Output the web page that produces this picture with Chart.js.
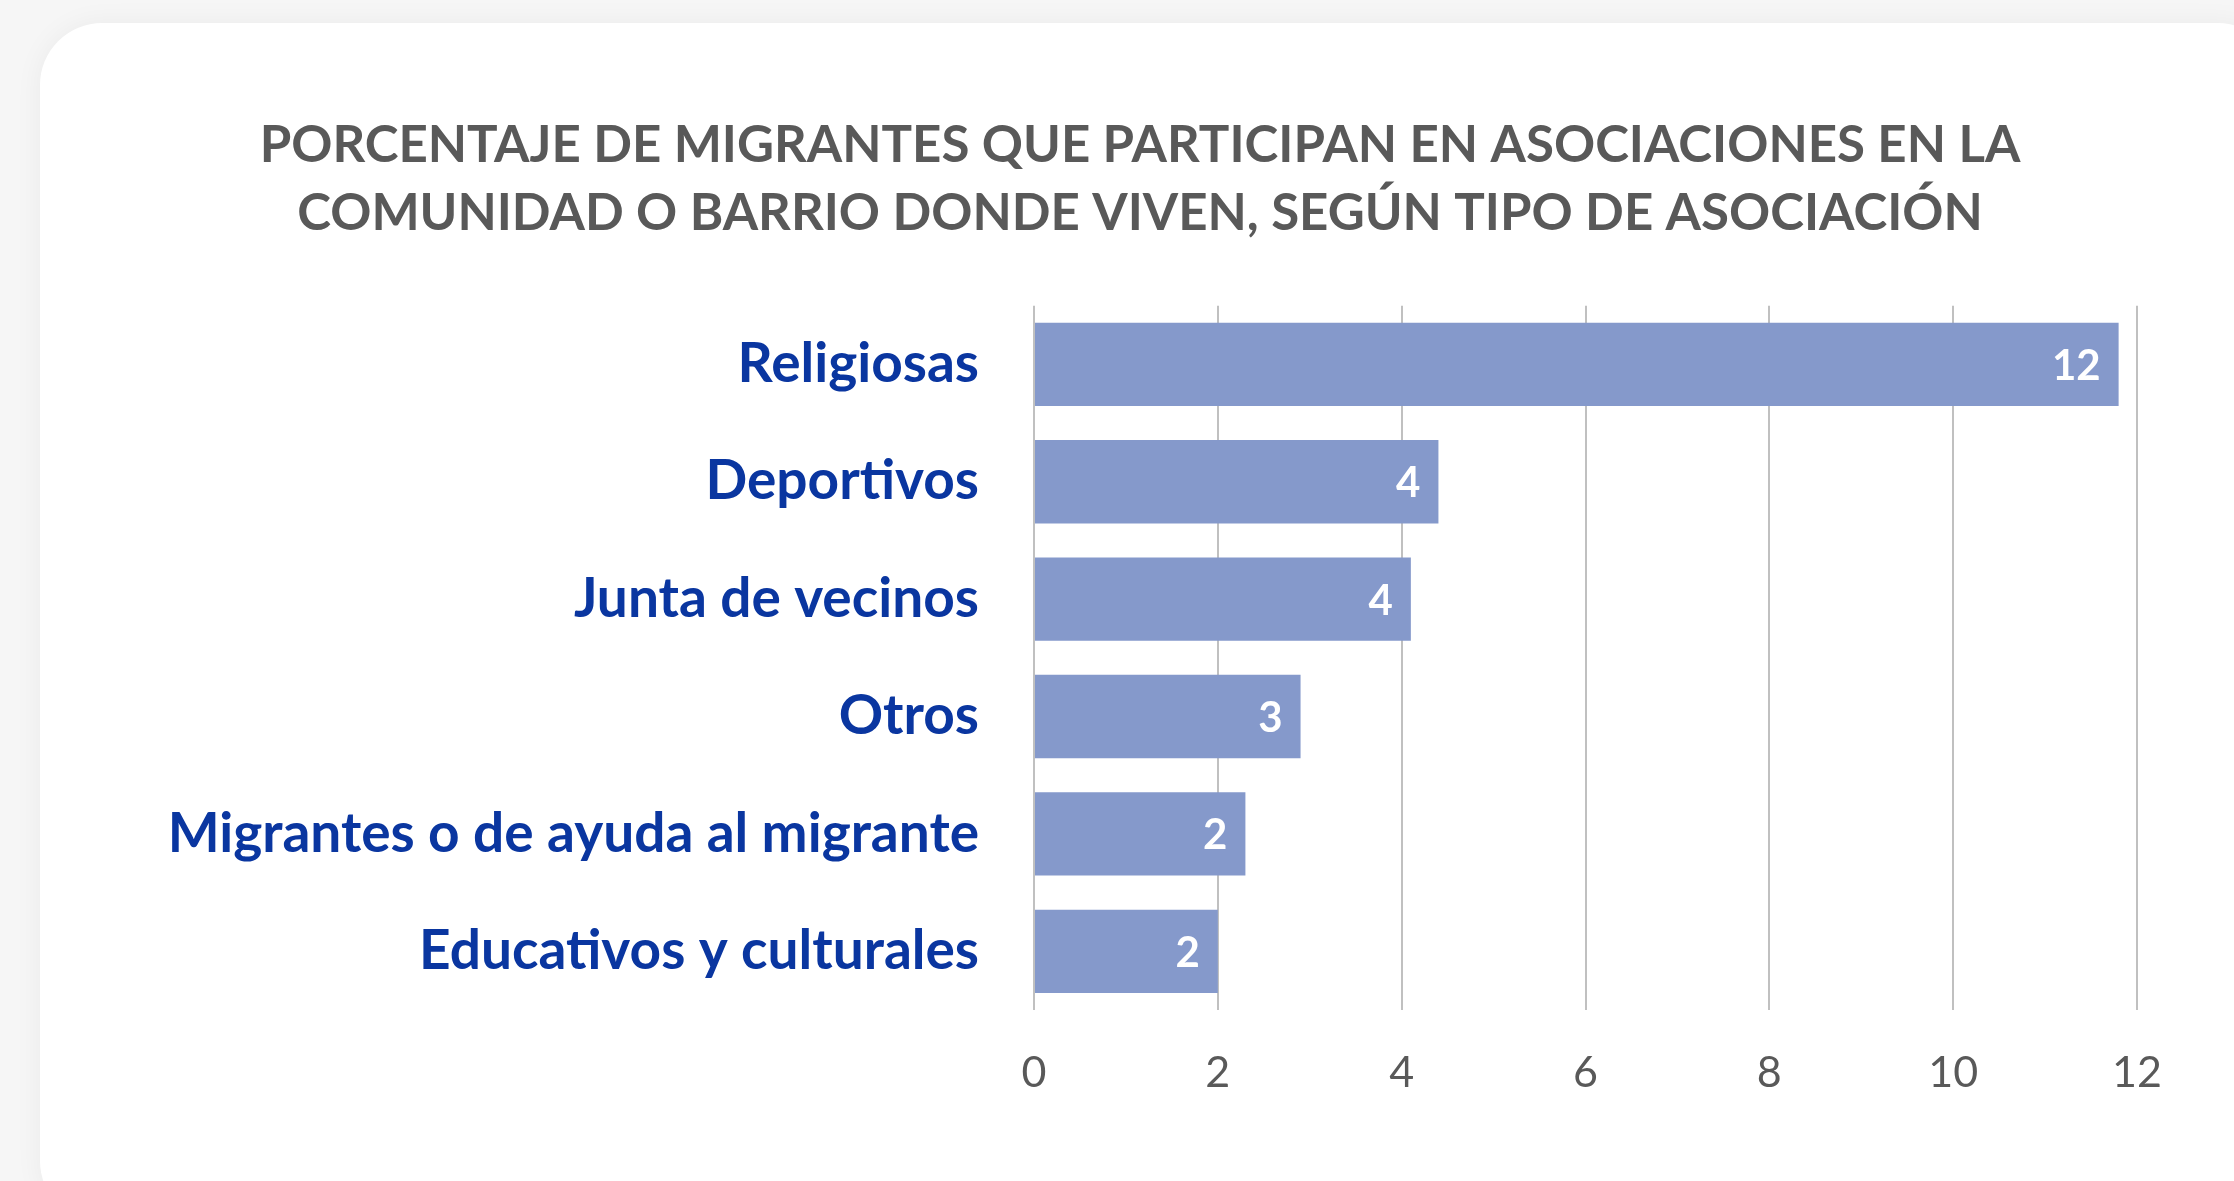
<!DOCTYPE html>
<html lang="es">
<head>
<meta charset="utf-8">
<title>Participación en asociaciones</title>
<script src="https://cdn.jsdelivr.net/npm/chart.js@4.4.1/dist/chart.umd.min.js"></script>
<style>
    html, body {
        margin: 0;
        padding: 0;
        width: 2234px;
        height: 1181px;
        overflow: hidden;
        background: #f6f6f6;
    }
    .card {
        position: absolute;
        left: 40px;
        top: 23px;
        width: 2240px;
        height: 1200px;
        background: #ffffff;
        border-radius: 62px;
        box-shadow: 0 0 28px rgba(0, 0, 0, 0.05);
    }
    .chart-wrap {
        position: absolute;
        left: 0;
        top: 0;
        width: 2234px;
        height: 1181px;
    }
</style>
</head>
<body>
<div class="card"></div>
<div class="chart-wrap"><canvas id="assocChart"></canvas></div>
<script>
// Tipos de asociación y porcentaje de participación
const categories = [
    'Religiosas',
    'Deportivos',
    'Junta de vecinos',
    'Otros',
    'Migrantes o de ayuda al migrante',
    'Educativos y culturales'
];
const percentages = [11.8, 4.4, 4.1, 2.9, 2.3, 2.0];
const xTicks = [0, 2, 4, 6, 8, 10, 12];
const titleLines = [
    'PORCENTAJE DE MIGRANTES QUE PARTICIPAN EN ASOCIACIONES EN LA',
    'COMUNIDAD O BARRIO DONDE VIVEN, SEGÚN TIPO DE ASOCIACIÓN'
];

const FONT = 'Lato, "Open Sans", sans-serif';

// White value labels drawn inside the end of each bar
const barValueLabels = {
    id: 'barValueLabels',
    afterDatasetsDraw(chart) {
        const ctx = chart.ctx;
        const meta = chart.getDatasetMeta(0);
        ctx.save();
        ctx.font = 'bold 42px ' + FONT;
        ctx.fillStyle = '#ffffff';
        ctx.textAlign = 'right';
        ctx.textBaseline = 'middle';
        meta.data.forEach((bar, i) => {
            const v = chart.data.datasets[0].data[i];
            ctx.fillText(String(Math.round(v)), bar.x - 18, bar.y + 2);
        });
        ctx.restore();
    }
};

function drawChart() {
    const ctx = document.getElementById('assocChart').getContext('2d');
    window.assocChart = new Chart(ctx, {
        type: 'bar',
        data: {
            labels: categories,
            datasets: [{
                data: percentages,
                backgroundColor: '#8599cb',
                borderWidth: 0,
                categoryPercentage: 1,
                barPercentage: 0.71
            }]
        },
        options: {
            indexAxis: 'y',
            responsive: true,
            maintainAspectRatio: false,
            animation: false,
            layout: {
                // left/right padding keeps the title centred on the card
                padding: { top: 0, right: 97, bottom: 0, left: 143 }
            },
            plugins: {
                legend: { display: false },
                tooltip: { enabled: false },
                title: {
                    display: true,
                    text: titleLines,
                    color: '#595959',
                    font: { family: FONT, size: 51, weight: 'bold', lineHeight: 1.34 },
                    padding: { top: 111, bottom: 58 }
                }
            },
            scales: {
                x: {
                    min: 0,
                    max: 12,
                    afterBuildTicks(scale) {
                        scale.ticks = xTicks.map(v => ({ value: v }));
                    },
                    afterFit(scale) {
                        scale.height = 171;
                    },
                    grid: {
                        color: '#c0c0c0',
                        lineWidth: 2,
                        drawTicks: false
                    },
                    border: { display: false },
                    ticks: {
                        color: '#595959',
                        padding: 37,
                        font: { family: FONT, size: 43 }
                    }
                },
                y: {
                    afterFit(scale) {
                        scale.width = 1034 - 143;
                    },
                    grid: { display: false, drawTicks: false },
                    border: { display: false },
                    ticks: {
                        color: '#0a36a0',
                        padding: 55,
                        font: { family: FONT, size: 55, weight: 'bold' }
                    }
                }
            }
        },
        plugins: [barValueLabels]
    });
}

// Make sure the system fonts are ready before drawing on the canvas
Promise.all([
    document.fonts.load('bold 50px Lato'),
    document.fonts.load('43px Lato')
]).then(drawChart, drawChart);
</script>
</body>
</html>
